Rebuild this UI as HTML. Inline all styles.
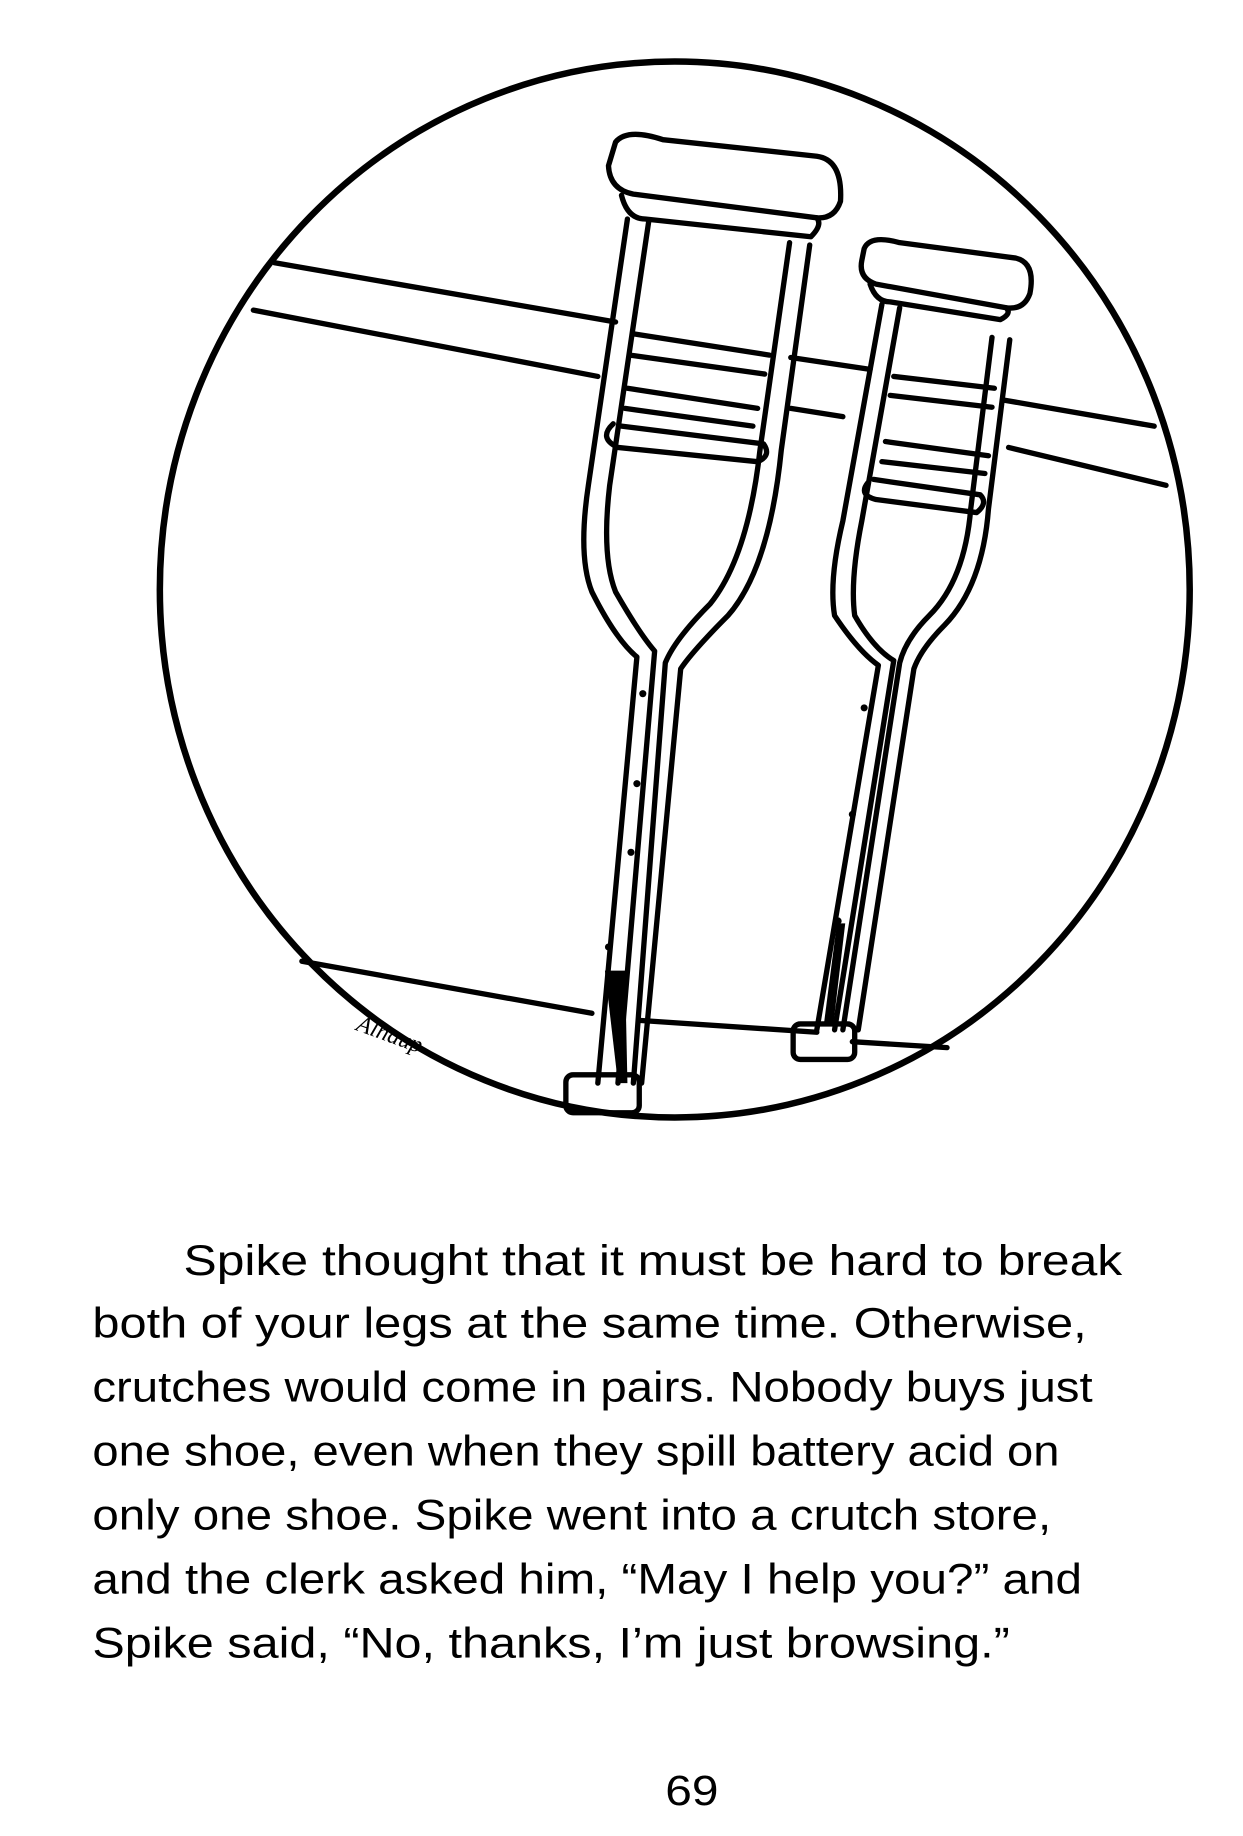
<!DOCTYPE html>
<html><head><style>html,body{margin:0;padding:0;background:#fff}svg{display:block}</style></head>
<body>
<svg width="1243" height="1836" viewBox="0 0 1050 1551" xmlns="http://www.w3.org/2000/svg">
<g fill="none" stroke="#000" stroke-width="4.5" stroke-linecap="round" stroke-linejoin="round">
<ellipse cx="570" cy="498" rx="435" ry="446" stroke-width="5.5"/>
<path d="M232 222 L520 272 M668 302 L735 312 M848 338 L975 360"/>
<path d="M214 262 L505 318 M668 345 L712 352 M852 378 L985 410"/>
<path d="M255 812 L500 856 M540 862 L690 872 M720 880 L800 885"/>
<path d="M520 120 Q530 108 560 118 L690 132 Q712 135 710 170 Q705 185 690 184 L535 164 Q515 160 514 140 Z"/>
<path d="M525 165 Q530 185 545 185 L685 200 Q695 190 690 184"/>
<path d="M530 185 L497 410 Q488 470 500 500 Q520 540 538 555 L505 915"/>
<path d="M548 187 L515 410 Q508 470 520 500 Q540 535 553 550 L522 915"/>
<path d="M667 205 L642 380 Q632 470 600 510 Q570 540 562 560 L535 915"/>
<path d="M684 207 L660 380 Q650 480 615 520 Q585 550 575 565 L542 915"/>
<path d="M535 282 L650 300 M532 300 L646 316"/>
<path d="M530 328 L640 345 M528 345 L636 360"/>
<path d="M518 358 Q505 370 522 378 L640 390 Q652 385 645 375 L525 360"/>
<rect x="478" y="908" width="62" height="32" rx="6"/>
<path d="M730 210 Q735 198 760 205 L858 218 Q875 222 870 248 Q865 262 850 260 L740 240 Q725 235 728 220 Z"/>
<path d="M735 240 Q740 255 752 255 L845 270 Q855 265 850 260"/>
<path d="M745 257 L712 440 Q700 490 705 520 Q725 550 742 562 L690 870"/>
<path d="M760 260 L728 440 Q718 490 722 520 Q738 548 755 558 L705 870"/>
<path d="M838 285 L820 430 Q815 490 785 520 Q765 540 760 560 L712 870"/>
<path d="M853 287 L835 430 Q830 495 798 528 Q778 548 772 565 L725 870"/>
<path d="M755 318 L840 328 M752 334 L838 344"/>
<path d="M748 373 L835 385 M745 390 L832 400"/>
<path d="M733 408 Q725 418 740 422 L825 433 Q835 425 828 418 L738 405"/>
<rect x="670" y="865" width="52" height="30" rx="6"/>
</g>
<g fill="#000">
<circle cx="543" cy="586" r="3"/><circle cx="538" cy="662" r="3"/><circle cx="533" cy="720" r="3"/><circle cx="514" cy="800" r="3"/>
<circle cx="730" cy="598" r="3"/><circle cx="720" cy="688" r="3"/><circle cx="708" cy="778" r="3"/>
<path d="M511 820 L522 915 L530 915 L528 820Z"/>
<path d="M707 780 L696 865 L704 865 L714 780Z"/>
</g>
<text x="300" y="870" font-family="Liberation Serif, serif" font-style="italic" font-size="20" transform="rotate(20 300 870)">Alhaup</text>
<g font-family="Liberation Sans, sans-serif" font-size="36" fill="#000">
<text x="155" y="1077" textLength="793" lengthAdjust="spacingAndGlyphs">Spike thought that it must be hard to break</text>
<text x="78" y="1130" textLength="840" lengthAdjust="spacingAndGlyphs">both of your legs at the same time. Otherwise,</text>
<text x="78" y="1184" textLength="845" lengthAdjust="spacingAndGlyphs">crutches would come in pairs. Nobody buys just</text>
<text x="78" y="1238" textLength="817" lengthAdjust="spacingAndGlyphs">one shoe, even when they spill battery acid on</text>
<text x="78" y="1292" textLength="810" lengthAdjust="spacingAndGlyphs">only one shoe. Spike went into a crutch store,</text>
<text x="78" y="1346" textLength="836" lengthAdjust="spacingAndGlyphs">and the clerk asked him, “May I help you?” and</text>
<text x="78" y="1400" textLength="775" lengthAdjust="spacingAndGlyphs">Spike said, “No, thanks, I’m just browsing.”</text>
<text x="562" y="1525" textLength="45" lengthAdjust="spacingAndGlyphs">69</text>
</g>
</svg>
</body></html>
